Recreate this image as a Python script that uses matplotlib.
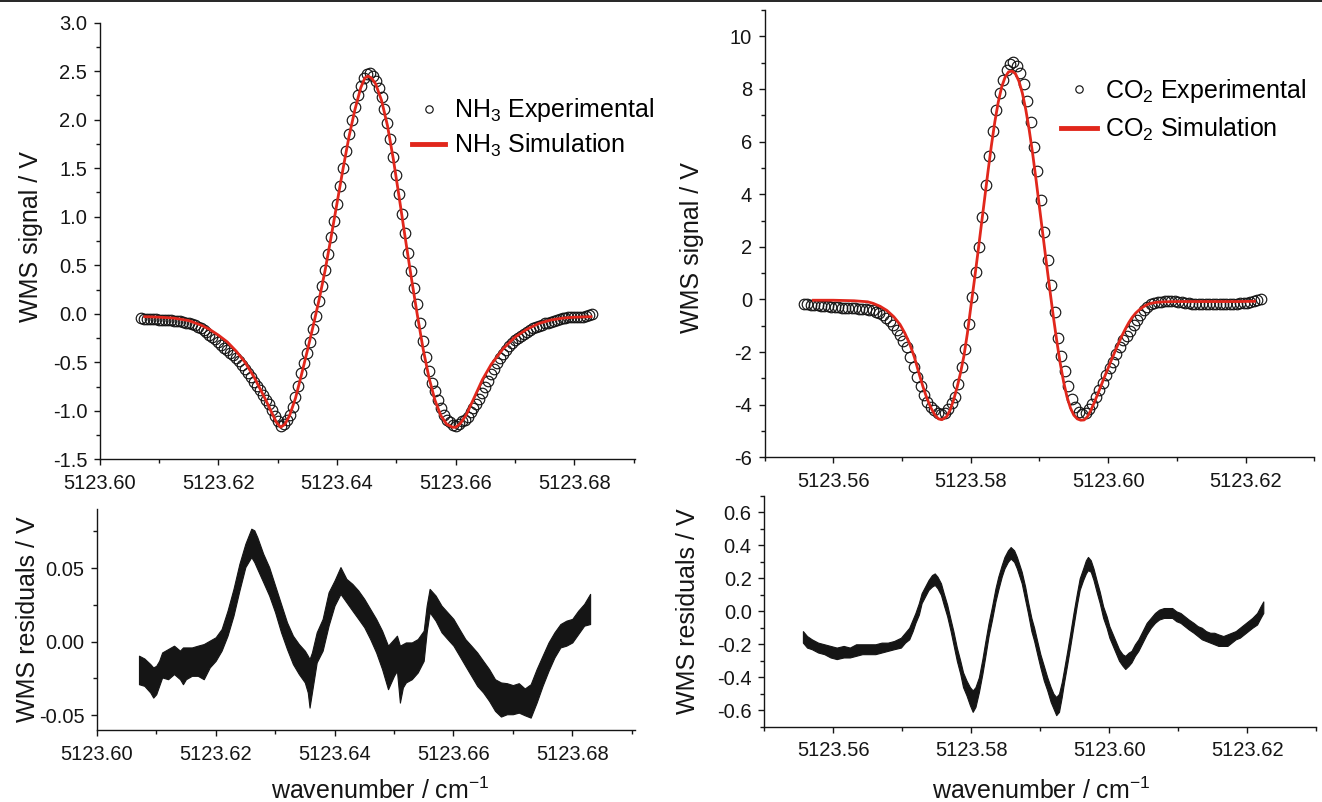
import matplotlib
matplotlib.use("Agg")
import matplotlib.pyplot as plt
from matplotlib.ticker import FixedLocator, AutoMinorLocator, FormatStrFormatter
from matplotlib.lines import Line2D

plt.rcParams['font.family'] = ['Liberation Sans', 'DejaVu Sans']
plt.rcParams['mathtext.fontset'] = 'custom'
plt.rcParams['mathtext.rm'] = 'Liberation Sans'
plt.rcParams['mathtext.it'] = 'Liberation Sans:italic'
plt.rcParams['mathtext.bf'] = 'Liberation Sans:bold'
plt.rcParams['axes.unicode_minus'] = False

RED = '#e1271c'
INK = '#151515'

# ---- NH3 line (top left) ----
nh3_exp_wn = [
    5123.6070, 5123.6075, 5123.6080, 5123.6085, 5123.6090, 5123.6095, 5123.6100, 5123.6105, 5123.6110, 5123.6115,
    5123.6120, 5123.6125, 5123.6130, 5123.6135, 5123.6140, 5123.6145, 5123.6150, 5123.6155, 5123.6160, 5123.6165,
    5123.6170, 5123.6175, 5123.6180, 5123.6185, 5123.6190, 5123.6195, 5123.6200, 5123.6205, 5123.6210, 5123.6215,
    5123.6220, 5123.6225, 5123.6230, 5123.6235, 5123.6240, 5123.6245, 5123.6250, 5123.6255, 5123.6260, 5123.6265,
    5123.6270, 5123.6275, 5123.6280, 5123.6285, 5123.6290, 5123.6295, 5123.6300, 5123.6305, 5123.6310, 5123.6315,
    5123.6320, 5123.6325, 5123.6330, 5123.6335, 5123.6340, 5123.6345, 5123.6350, 5123.6355, 5123.6360, 5123.6365,
    5123.6370, 5123.6375, 5123.6380, 5123.6385, 5123.6390, 5123.6395, 5123.6400, 5123.6405, 5123.6410, 5123.6415,
    5123.6420, 5123.6425, 5123.6430, 5123.6435, 5123.6440, 5123.6445, 5123.6450, 5123.6455, 5123.6460, 5123.6465,
    5123.6470, 5123.6475, 5123.6480, 5123.6485, 5123.6490, 5123.6495, 5123.6500, 5123.6505, 5123.6510, 5123.6515,
    5123.6520, 5123.6525, 5123.6530, 5123.6535, 5123.6540, 5123.6545, 5123.6550, 5123.6555, 5123.6560, 5123.6565,
    5123.6570, 5123.6575, 5123.6580, 5123.6585, 5123.6590, 5123.6595, 5123.6600, 5123.6605, 5123.6610, 5123.6615,
    5123.6620, 5123.6625, 5123.6630, 5123.6635, 5123.6640, 5123.6645, 5123.6650, 5123.6655, 5123.6660, 5123.6665,
    5123.6670, 5123.6675, 5123.6680, 5123.6685, 5123.6690, 5123.6695, 5123.6700, 5123.6705, 5123.6710, 5123.6715,
    5123.6720, 5123.6725, 5123.6730, 5123.6735, 5123.6740, 5123.6745, 5123.6750, 5123.6755, 5123.6760, 5123.6765,
    5123.6770, 5123.6775, 5123.6780, 5123.6785, 5123.6790, 5123.6795, 5123.6800, 5123.6805, 5123.6810, 5123.6815,
    5123.6820, 5123.6825, 5123.6830]
nh3_exp_v = [
    -0.045, -0.05, -0.05, -0.05, -0.055, -0.055, -0.06, -0.06, -0.06, -0.065,
    -0.065, -0.07, -0.07, -0.075, -0.08, -0.09, -0.10, -0.11, -0.12, -0.135,
    -0.15, -0.17, -0.19, -0.215, -0.24, -0.265, -0.29, -0.32, -0.35, -0.375,
    -0.40, -0.425, -0.455, -0.49, -0.525, -0.565, -0.61, -0.655, -0.70, -0.745,
    -0.79, -0.84, -0.885, -0.935, -0.99, -1.05, -1.11, -1.16, -1.14, -1.10,
    -1.04, -0.96, -0.86, -0.74, -0.61, -0.51, -0.40, -0.29, -0.16, -0.02,
    0.13, 0.29, 0.45, 0.62, 0.79, 0.96, 1.13, 1.32, 1.50, 1.68,
    1.85, 2.00, 2.13, 2.25, 2.35, 2.43, 2.47, 2.48, 2.45, 2.40,
    2.33, 2.23, 2.11, 1.97, 1.80, 1.62, 1.43, 1.23, 1.03, 0.83,
    0.63, 0.44, 0.27, 0.10, -0.10, -0.28, -0.45, -0.59, -0.71, -0.80,
    -0.89, -0.97, -1.04, -1.09, -1.12, -1.145, -1.155, -1.14, -1.11, -1.09,
    -1.06, -1.01, -0.97, -0.93, -0.88, -0.82, -0.75, -0.69, -0.62, -0.57,
    -0.51, -0.46, -0.41, -0.37, -0.33, -0.30, -0.27, -0.25, -0.23, -0.21,
    -0.19, -0.17, -0.15, -0.14, -0.13, -0.115, -0.10, -0.09, -0.08, -0.07,
    -0.06, -0.05, -0.045, -0.04, -0.035, -0.03, -0.03, -0.03, -0.03, -0.03,
    -0.025, -0.01, 0.00]

nh3_sim_wn = [
    5123.6076, 5123.6100, 5123.6125, 5123.6150, 5123.6170, 5123.6185, 5123.6200, 5123.6215, 5123.6230, 5123.6245,
    5123.6260, 5123.6270, 5123.6280, 5123.6290, 5123.6298, 5123.6305, 5123.6312, 5123.6320, 5123.6330, 5123.6340,
    5123.6350, 5123.6360, 5123.6370, 5123.6380, 5123.6390, 5123.6400, 5123.6410, 5123.6420, 5123.6430, 5123.6440,
    5123.6447, 5123.6452, 5123.6458, 5123.6465, 5123.6475, 5123.6485, 5123.6495, 5123.6505, 5123.6515, 5123.6525,
    5123.6535, 5123.6545, 5123.6555, 5123.6565, 5123.6575, 5123.6585, 5123.6595, 5123.6600, 5123.6608, 5123.6618,
    5123.6630, 5123.6645, 5123.6660, 5123.6680, 5123.6700, 5123.6720, 5123.6740, 5123.6760, 5123.6780, 5123.6800,
    5123.6828]
nh3_sim_v = [
    -0.03, -0.035, -0.045, -0.07, -0.115, -0.16, -0.22, -0.29, -0.385, -0.50,
    -0.65, -0.77, -0.89, -1.02, -1.12, -1.17, -1.14, -1.05, -0.87, -0.63,
    -0.38, -0.12, 0.15, 0.45, 0.79, 1.14, 1.49, 1.82, 2.10, 2.33,
    2.43, 2.45, 2.43, 2.37, 2.20, 1.94, 1.59, 1.19, 0.78, 0.38,
    0.00, -0.36, -0.66, -0.89, -1.05, -1.14, -1.17, -1.17, -1.13, -1.04,
    -0.88, -0.68, -0.52, -0.36, -0.24, -0.16, -0.10, -0.065, -0.045, -0.035,
    -0.03]

# ---- CO2 line (top right) ----
co2_exp_wn = [
    5123.5557, 5123.5562, 5123.5567, 5123.5572, 5123.5577, 5123.5582, 5123.5587, 5123.5592, 5123.5597, 5123.5602,
    5123.5607, 5123.5612, 5123.5617, 5123.5622, 5123.5627, 5123.5632, 5123.5637, 5123.5642, 5123.5647, 5123.5652,
    5123.5657, 5123.5662, 5123.5667, 5123.5672, 5123.5677, 5123.5682, 5123.5687, 5123.5692, 5123.5697, 5123.5702,
    5123.5707, 5123.5712, 5123.5717, 5123.5722, 5123.5727, 5123.5732, 5123.5737, 5123.5742, 5123.5747, 5123.5752,
    5123.5757, 5123.5762, 5123.5767, 5123.5772, 5123.5777, 5123.5782, 5123.5787, 5123.5792, 5123.5797, 5123.5802,
    5123.5807, 5123.5812, 5123.5817, 5123.5822, 5123.5827, 5123.5832, 5123.5837, 5123.5842, 5123.5847, 5123.5852,
    5123.5857, 5123.5862, 5123.5867, 5123.5872, 5123.5877, 5123.5882, 5123.5887, 5123.5892, 5123.5897, 5123.5902,
    5123.5907, 5123.5912, 5123.5917, 5123.5922, 5123.5927, 5123.5932, 5123.5937, 5123.5942, 5123.5947, 5123.5952,
    5123.5957, 5123.5962, 5123.5967, 5123.5972, 5123.5977, 5123.5982, 5123.5987, 5123.5992, 5123.5997, 5123.6002,
    5123.6007, 5123.6012, 5123.6017, 5123.6022, 5123.6027, 5123.6032, 5123.6037, 5123.6042, 5123.6047, 5123.6052,
    5123.6057, 5123.6062, 5123.6067, 5123.6072, 5123.6077, 5123.6082, 5123.6087, 5123.6092, 5123.6097, 5123.6102,
    5123.6107, 5123.6112, 5123.6117, 5123.6122, 5123.6127, 5123.6132, 5123.6137, 5123.6142, 5123.6147, 5123.6152,
    5123.6157, 5123.6162, 5123.6167, 5123.6172, 5123.6177, 5123.6182, 5123.6187, 5123.6192, 5123.6197, 5123.6202,
    5123.6207, 5123.6212, 5123.6217, 5123.6222]
co2_exp_v = [
    -0.18, -0.19, -0.21, -0.22, -0.23, -0.24, -0.25, -0.26, -0.27, -0.28,
    -0.30, -0.31, -0.32, -0.32, -0.33, -0.34, -0.35, -0.36, -0.38, -0.40,
    -0.42, -0.46, -0.52, -0.60, -0.70, -0.82, -0.97, -1.15, -1.36, -1.58,
    -1.82, -2.17, -2.55, -2.95, -3.30, -3.62, -3.88, -4.08, -4.22, -4.31,
    -4.36, -4.30, -4.18, -3.95, -3.70, -3.20, -2.55, -1.90, -0.92, 0.10,
    1.03, 2.00, 3.15, 4.35, 5.45, 6.40, 7.20, 7.85, 8.35, 8.72,
    8.96, 9.04, 8.88, 8.60, 8.18, 7.55, 6.75, 5.80, 4.90, 3.78,
    2.58, 1.50, 0.53, -0.48, -1.45, -2.15, -2.72, -3.30, -3.78, -4.10,
    -4.29, -4.36, -4.30, -4.16, -3.97, -3.70, -3.43, -3.16, -2.88, -2.62,
    -2.36, -2.08, -1.80, -1.56, -1.38, -1.20, -0.98, -0.77, -0.58, -0.42,
    -0.28, -0.19, -0.14, -0.10, -0.08, -0.07, -0.06, -0.06, -0.07, -0.08,
    -0.10, -0.12, -0.14, -0.16, -0.17, -0.18, -0.19, -0.19, -0.19, -0.19,
    -0.19, -0.19, -0.19, -0.18, -0.18, -0.17, -0.16, -0.15, -0.14, -0.12,
    -0.09, -0.06, -0.03, 0.00]

co2_sim_wn = [
    5123.5571, 5123.5600, 5123.5630, 5123.5650, 5123.5658, 5123.5668, 5123.5678, 5123.5688, 5123.5697, 5123.5704,
    5123.5711, 5123.5718, 5123.5724, 5123.5730, 5123.5736, 5123.5742, 5123.5748, 5123.5753, 5123.5758, 5123.5765,
    5123.5770, 5123.5775, 5123.5780, 5123.5785, 5123.5790, 5123.5795, 5123.5800, 5123.5805, 5123.5810, 5123.5815,
    5123.5820, 5123.5825, 5123.5830, 5123.5835, 5123.5840, 5123.5845, 5123.5850, 5123.5855, 5123.5860, 5123.5865,
    5123.5870, 5123.5875, 5123.5880, 5123.5885, 5123.5890, 5123.5895, 5123.5900, 5123.5905, 5123.5910, 5123.5915,
    5123.5920, 5123.5925, 5123.5930, 5123.5935, 5123.5940, 5123.5945, 5123.5950, 5123.5955, 5123.5960, 5123.5965,
    5123.5970, 5123.5975, 5123.5980, 5123.5985, 5123.5990, 5123.5995, 5123.6000, 5123.6005, 5123.6010, 5123.6015,
    5123.6020, 5123.6025, 5123.6030, 5123.6035, 5123.6040, 5123.6045, 5123.6050, 5123.6055, 5123.6060, 5123.6070,
    5123.6080, 5123.6100, 5123.6130, 5123.6160, 5123.6190, 5123.6213]
co2_sim_v = [
    -0.03, -0.03, -0.05, -0.09, -0.15, -0.26, -0.42, -0.66, -0.95, -1.28,
    -1.68, -2.20, -2.75, -3.28, -3.75, -4.12, -4.40, -4.54, -4.57, -4.45,
    -4.20, -3.82, -3.35, -2.80, -2.15, -1.30, -0.30, 0.68, 1.70, 2.75,
    3.80, 4.85, 5.85, 6.75, 7.50, 8.08, 8.45, 8.65, 8.68, 8.58,
    8.30, 7.85, 7.22, 6.45, 5.55, 4.55, 3.50, 2.45, 1.40, 0.38,
    -0.62, -1.55, -2.40, -3.12, -3.70, -4.12, -4.40, -4.54, -4.59, -4.58,
    -4.45, -4.20, -3.90, -3.58, -3.25, -2.92, -2.60, -2.28, -1.97, -1.67,
    -1.38, -1.12, -0.88, -0.68, -0.52, -0.40, -0.30, -0.22, -0.16, -0.11,
    -0.09, -0.08, -0.08, -0.08, -0.08, -0.07]

# ---- residual bands (bottom), upper / lower envelope of the noisy trace ----
nh3_res_wn = [
    5123.6071, 5123.6080, 5123.6090, 5123.6095, 5123.6100, 5123.6105, 5123.6110, 5123.6120, 5123.6130, 5123.6140,
    5123.6145, 5123.6150, 5123.6160, 5123.6170, 5123.6180, 5123.6190, 5123.6200, 5123.6210, 5123.6220, 5123.6230,
    5123.6240, 5123.6250, 5123.6260, 5123.6265, 5123.6270, 5123.6280, 5123.6290, 5123.6300, 5123.6310, 5123.6320,
    5123.6330, 5123.6340, 5123.6350, 5123.6355, 5123.6358, 5123.6362, 5123.6370, 5123.6380, 5123.6390, 5123.6400,
    5123.6410, 5123.6420, 5123.6430, 5123.6440, 5123.6450, 5123.6460, 5123.6470, 5123.6480, 5123.6490, 5123.6500,
    5123.6505, 5123.6510, 5123.6515, 5123.6520, 5123.6530, 5123.6540, 5123.6550, 5123.6555, 5123.6560, 5123.6570,
    5123.6580, 5123.6590, 5123.6600, 5123.6610, 5123.6620, 5123.6630, 5123.6640, 5123.6650, 5123.6660, 5123.6670,
    5123.6680, 5123.6690, 5123.6700, 5123.6710, 5123.6720, 5123.6730, 5123.6740, 5123.6750, 5123.6760, 5123.6770,
    5123.6780, 5123.6790, 5123.6800, 5123.6810, 5123.6820, 5123.6830]
nh3_res_hi = [
    -0.0095, -0.0114, -0.0152, -0.0175, -0.0164, -0.0130, -0.0073, -0.0050, -0.0027, -0.0061,
    -0.0039, -0.0039, -0.0039, -0.0027, -0.0016, 0.0007, 0.0030, 0.0086, 0.0211, 0.0359,
    0.0530, 0.0666, 0.0768, 0.0757, 0.0711, 0.0598, 0.0507, 0.0382, 0.0257, 0.0132,
    0.0041, -0.0016, -0.0061, -0.0095, -0.0118, -0.0073, 0.0064, 0.0155, 0.0336, 0.0416,
    0.0507, 0.0427, 0.0393, 0.0348, 0.0291, 0.0223, 0.0155, 0.0075, -0.0027, 0.0018,
    0.0041, -0.0027, -0.0016, -0.0005, -0.0005, 0.0018, 0.0075, 0.0245, 0.0359, 0.0314,
    0.0245, 0.0200, 0.0155, 0.0086, 0.0018, -0.0027, -0.0073, -0.0130, -0.0186, -0.0255,
    -0.0277, -0.0282, -0.0295, -0.0282, -0.0318, -0.0289, -0.0186, -0.0095, -0.0005, 0.0064,
    0.0120, 0.0143, 0.0155, 0.0211, 0.0257, 0.0325]
nh3_res_lo = [
    -0.0289, -0.0300, -0.0345, -0.0380, -0.0357, -0.0300, -0.0243, -0.0255, -0.0220, -0.0255,
    -0.0289, -0.0255, -0.0232, -0.0232, -0.0255, -0.0175, -0.0130, -0.0061, 0.0041, 0.0177,
    0.0348, 0.0507, 0.0575, 0.0541, 0.0495, 0.0405, 0.0314, 0.0200, 0.0064, -0.0050,
    -0.0152, -0.0220, -0.0277, -0.0345, -0.0448, -0.0345, -0.0141, -0.0061, 0.0109, 0.0245,
    0.0325, 0.0268, 0.0211, 0.0155, 0.0098, 0.0018, -0.0073, -0.0186, -0.0323, -0.0232,
    -0.0198, -0.0414, -0.0311, -0.0277, -0.0255, -0.0209, -0.0130, 0.0064, 0.0200, 0.0143,
    0.0064, 0.0018, -0.0027, -0.0095, -0.0164, -0.0232, -0.0300, -0.0345, -0.0402, -0.0470,
    -0.0509, -0.0493, -0.0493, -0.0482, -0.0500, -0.0516, -0.0414, -0.0300, -0.0198, -0.0107,
    -0.0039, -0.0027, -0.0005, 0.0052, 0.0109, 0.0120]

co2_res_wn = [
    5123.5556, 5123.5562, 5123.5569, 5123.5578, 5123.5587, 5123.5596, 5123.5605, 5123.5615, 5123.5624, 5123.5633,
    5123.5642, 5123.5652, 5123.5661, 5123.5670, 5123.5679, 5123.5688, 5123.5698, 5123.5704, 5123.5710, 5123.5715,
    5123.5719, 5123.5724, 5123.5728, 5123.5733, 5123.5738, 5123.5743, 5123.5747, 5123.5751, 5123.5756, 5123.5760,
    5123.5765, 5123.5770, 5123.5774, 5123.5779, 5123.5784, 5123.5788, 5123.5793, 5123.5798, 5123.5802, 5123.5806,
    5123.5811, 5123.5816, 5123.5820, 5123.5825, 5123.5830, 5123.5835, 5123.5839, 5123.5844, 5123.5848, 5123.5853,
    5123.5857, 5123.5862, 5123.5866, 5123.5873, 5123.5878, 5123.5882, 5123.5887, 5123.5891, 5123.5896, 5123.5900,
    5123.5905, 5123.5910, 5123.5915, 5123.5919, 5123.5923, 5123.5927, 5123.5931, 5123.5934, 5123.5939, 5123.5943,
    5123.5948, 5123.5953, 5123.5957, 5123.5962, 5123.5966, 5123.5969, 5123.5973, 5123.5977, 5123.5982, 5123.5986,
    5123.5991, 5123.5996, 5123.6000, 5123.6005, 5123.6010, 5123.6014, 5123.6019, 5123.6023, 5123.6028, 5123.6032,
    5123.6037, 5123.6042, 5123.6048, 5123.6054, 5123.6060, 5123.6066, 5123.6072, 5123.6079, 5123.6085, 5123.6091,
    5123.6097, 5123.6103, 5123.6109, 5123.6115, 5123.6122, 5123.6128, 5123.6134, 5123.6140, 5123.6146, 5123.6152,
    5123.6158, 5123.6165, 5123.6171, 5123.6177, 5123.6183, 5123.6189, 5123.6195, 5123.6201, 5123.6207, 5123.6214,
    5123.6219, 5123.6223]
co2_res_hi = [
    -0.12, -0.15, -0.17, -0.19, -0.20, -0.21, -0.22, -0.21, -0.22, -0.20,
    -0.20, -0.20, -0.20, -0.19, -0.19, -0.18, -0.16, -0.13, -0.10, -0.05,
    -0.01, 0.05, 0.11, 0.15, 0.19, 0.22, 0.23, 0.21, 0.17, 0.11,
    0.04, -0.05, -0.12, -0.22, -0.30, -0.37, -0.42, -0.46, -0.48, -0.46,
    -0.40, -0.29, -0.19, -0.07, 0.03, 0.14, 0.21, 0.28, 0.33, 0.37,
    0.39, 0.37, 0.33, 0.24, 0.15, 0.06, -0.04, -0.10, -0.19, -0.26,
    -0.33, -0.40, -0.46, -0.50, -0.52, -0.50, -0.43, -0.36, -0.24, -0.14,
    -0.01, 0.11, 0.20, 0.26, 0.31, 0.33, 0.31, 0.26, 0.18, 0.12,
    0.03, -0.03, -0.09, -0.14, -0.19, -0.23, -0.26, -0.27, -0.25, -0.24,
    -0.20, -0.17, -0.12, -0.07, -0.04, -0.01, 0.01, 0.02, 0.02, 0.02,
    0.00, -0.01, -0.03, -0.05, -0.07, -0.09, -0.10, -0.12, -0.13, -0.13,
    -0.14, -0.15, -0.14, -0.13, -0.12, -0.10, -0.08, -0.06, -0.04, -0.01,
    0.03, 0.06]
co2_res_lo = [
    -0.19, -0.22, -0.23, -0.25, -0.26, -0.28, -0.29, -0.28, -0.28, -0.27,
    -0.26, -0.26, -0.26, -0.25, -0.24, -0.23, -0.22, -0.19, -0.17, -0.12,
    -0.07, -0.02, 0.05, 0.09, 0.13, 0.15, 0.16, 0.14, 0.10, 0.04,
    -0.03, -0.12, -0.20, -0.30, -0.38, -0.46, -0.51, -0.57, -0.61, -0.58,
    -0.49, -0.38, -0.28, -0.15, -0.05, 0.06, 0.13, 0.21, 0.26, 0.30,
    0.32, 0.30, 0.26, 0.17, 0.07, -0.01, -0.12, -0.18, -0.27, -0.34,
    -0.42, -0.48, -0.55, -0.59, -0.63, -0.61, -0.52, -0.44, -0.32, -0.22,
    -0.09, 0.04, 0.13, 0.19, 0.23, 0.25, 0.24, 0.19, 0.11, 0.05,
    -0.04, -0.10, -0.16, -0.21, -0.26, -0.30, -0.33, -0.35, -0.33, -0.31,
    -0.27, -0.24, -0.19, -0.14, -0.10, -0.07, -0.05, -0.04, -0.04, -0.04,
    -0.06, -0.07, -0.09, -0.11, -0.13, -0.15, -0.17, -0.18, -0.19, -0.20,
    -0.21, -0.21, -0.21, -0.19, -0.17, -0.16, -0.14, -0.12, -0.10, -0.08,
    -0.04, -0.01]

nh3_xticks = [5123.60, 5123.62, 5123.64, 5123.66, 5123.68]
co2_xticks = [5123.56, 5123.58, 5123.60, 5123.62]
nh3_yticks = [-1.5, -1.0, -0.5, 0.0, 0.5, 1.0, 1.5, 2.0, 2.5, 3.0]
co2_yticks = [-6, -4, -2, 0, 2, 4, 6, 8, 10]
nh3_res_yticks = [-0.05, 0.00, 0.05]
co2_res_yticks = [-0.6, -0.4, -0.2, 0.0, 0.2, 0.4, 0.6]


def style(ax, xticks, yticks, yfmt):
    for s in ('top', 'right'):
        ax.spines[s].set_visible(False)
    for s in ('left', 'bottom'):
        ax.spines[s].set_linewidth(1.0)
        ax.spines[s].set_color(INK)
    ax.xaxis.set_major_locator(FixedLocator(xticks))
    ax.yaxis.set_major_locator(FixedLocator(yticks))
    ax.xaxis.set_minor_locator(AutoMinorLocator(2))
    ax.yaxis.set_minor_locator(AutoMinorLocator(2))
    ax.xaxis.set_major_formatter(FormatStrFormatter('%.2f'))
    ax.yaxis.set_major_formatter(FormatStrFormatter(yfmt))
    ax.tick_params(which='major', direction='out', length=4.5, width=1.0,
                   labelsize=14.5, pad=4.5, colors=INK)
    ax.tick_params(which='minor', direction='out', length=2.6, width=1.0, colors=INK)
    ax.tick_params(axis='x', which='major', pad=6)


fig = plt.figure(figsize=(13.22, 8.02), dpi=100)
ax1 = fig.add_axes([0.0754, 0.4273, 0.4053, 0.5444])
ax2 = fig.add_axes([0.5784, 0.4298, 0.4158, 0.5577])
ax3 = fig.add_axes([0.0732, 0.0898, 0.4069, 0.2752])
ax4 = fig.add_axes([0.5781, 0.0939, 0.4177, 0.2877])

# top left
ax1.plot(nh3_exp_wn, nh3_exp_v, 'o', mfc='none', mec=INK, ms=7.6, mew=0.85,
         label='NH$_3$ Experimental')
ax1.plot(nh3_sim_wn, nh3_sim_v, '-', color=RED, lw=2.0, label='NH$_3$ Simulation')
ax1.set_xlim(5123.60, 5123.6903)
ax1.set_ylim(-1.5, 3.0)
style(ax1, nh3_xticks, nh3_yticks, '%.1f')
ax1.set_ylabel('WMS signal / V', fontsize=18, color=INK)
ax1.yaxis.set_label_coords(-0.106, 0.511)
leg1 = ax1.legend(loc='upper left', bbox_to_anchor=(0.583, 0.831), frameon=False,
                  fontsize=18, handlelength=1.32, handletextpad=0.36, labelspacing=0.28,
                  borderpad=0, borderaxespad=0, numpoints=1, markerscale=0.7)
leg1.get_lines()[1].set_linewidth(3.5)

# top right
ax2.plot(co2_exp_wn, co2_exp_v, 'o', mfc='none', mec=INK, ms=7.6, mew=0.85,
         label='CO$_2$ Experimental')
ax2.plot(co2_sim_wn, co2_sim_v, '-', color=RED, lw=2.0, label='CO$_2$ Simulation')
ax2.set_xlim(5123.55, 5123.63)
ax2.set_ylim(-6, 11)
style(ax2, co2_xticks, co2_yticks, '%d')
ax2.set_ylabel('WMS signal / V', fontsize=18, color=INK)
ax2.yaxis.set_label_coords(-0.110, 0.469)
leg2 = ax2.legend(loc='upper left', bbox_to_anchor=(0.539, 0.851), frameon=False,
                  fontsize=18, handlelength=1.44, handletextpad=0.32, labelspacing=0.44,
                  borderpad=0, borderaxespad=0, numpoints=1, markerscale=0.7)
leg2.get_lines()[1].set_linewidth(3.5)

# bottom left
ax3.fill_between(nh3_res_wn, nh3_res_lo, nh3_res_hi, color=INK, lw=0.8, edgecolor=INK)
ax3.set_xlim(5123.60, 5123.6905)
ax3.set_ylim(-0.06, 0.09)
style(ax3, nh3_xticks, nh3_res_yticks, '%.2f')
ax3.set_ylabel('WMS residuals / V', fontsize=18, color=INK)
ax3.yaxis.set_label_coords(-0.1056, 0.5)
ax3.set_xlabel('wavenumber / cm$^{-1}$', fontsize=18, color=INK, va='top')
ax3.xaxis.set_label_coords(0.5265, -0.218)

# bottom right
ax4.fill_between(co2_res_wn, co2_res_lo, co2_res_hi, color=INK, lw=0.8, edgecolor=INK)
ax4.set_xlim(5123.55, 5123.63)
ax4.set_ylim(-0.7, 0.7)
style(ax4, co2_xticks, co2_res_yticks, '%.1f')
ax4.set_ylabel('WMS residuals / V', fontsize=18, color=INK)
ax4.yaxis.set_label_coords(-0.1165, 0.5)
ax4.set_xlabel('wavenumber / cm$^{-1}$', fontsize=18, color=INK, va='top')
ax4.xaxis.set_label_coords(0.502, -0.222)

# thin rule along the very top of the page
fig.add_artist(Line2D([0, 1], [0.9991, 0.9991], transform=fig.transFigure,
                      color='black', lw=1.2))

fig.savefig('out.png', dpi=100)
